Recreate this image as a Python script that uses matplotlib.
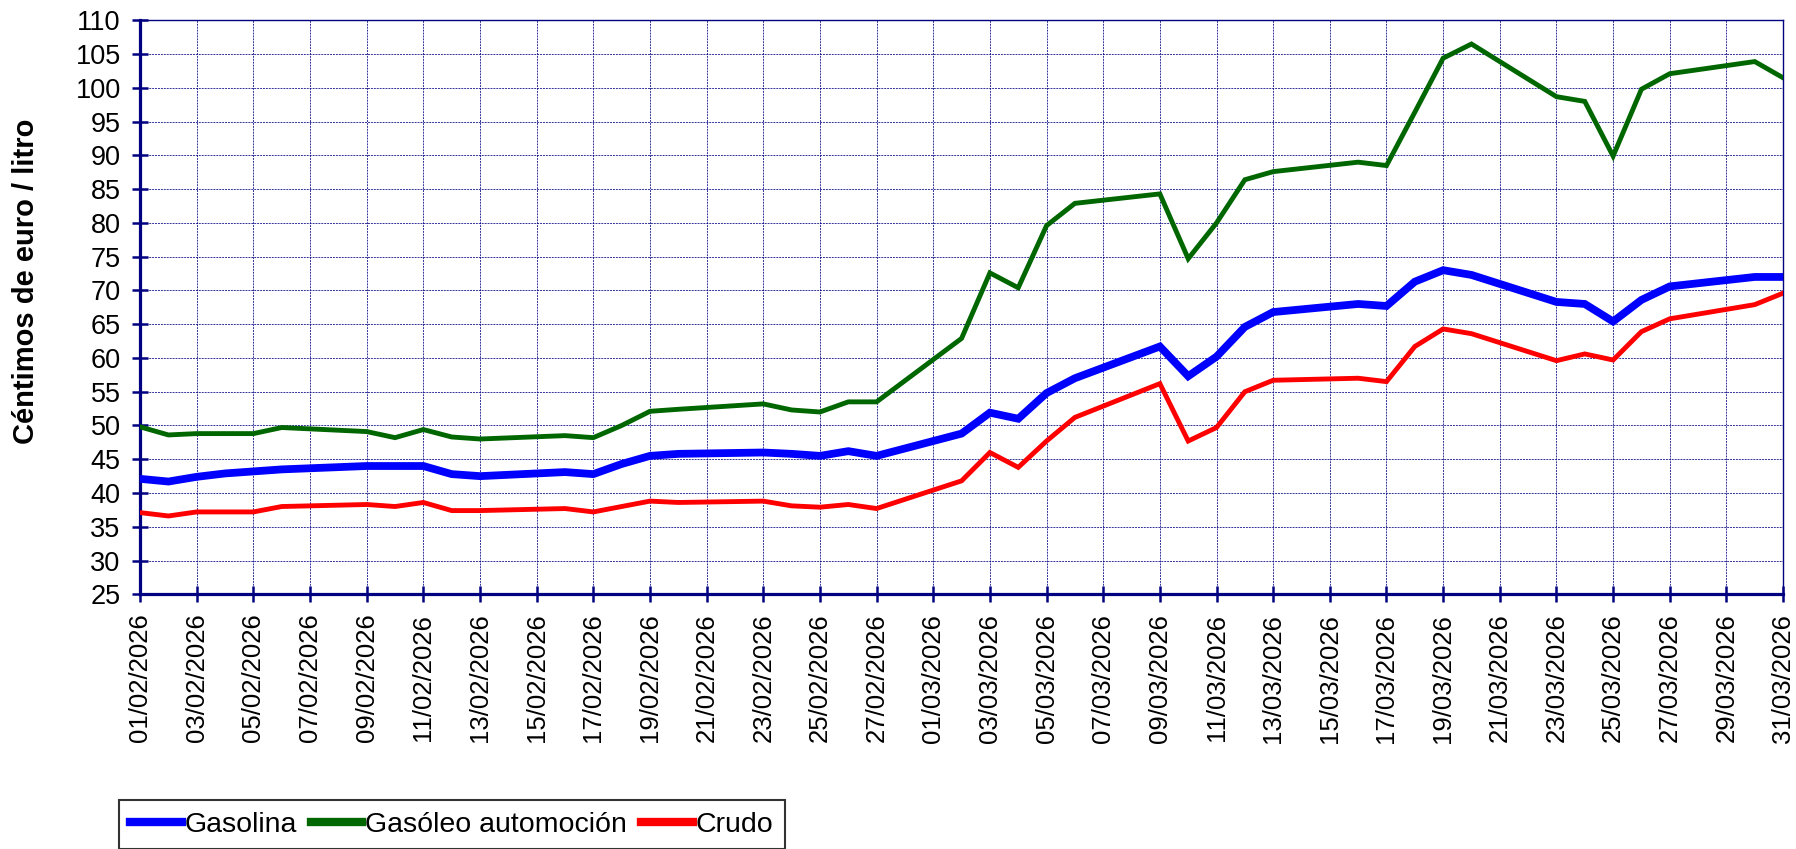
import matplotlib
matplotlib.use("Agg")
import matplotlib.pyplot as plt
import matplotlib.dates as mdates
import pandas as pd

plt.rcParams['font.family'] = ['Liberation Sans', 'DejaVu Sans']

dates = ["01/02/2026", "02/02/2026", "03/02/2026", "04/02/2026", "05/02/2026", "06/02/2026",
         "09/02/2026", "10/02/2026", "11/02/2026", "12/02/2026", "13/02/2026",
         "16/02/2026", "17/02/2026", "18/02/2026", "19/02/2026", "20/02/2026",
         "23/02/2026", "24/02/2026", "25/02/2026", "26/02/2026", "27/02/2026",
         "02/03/2026", "03/03/2026", "04/03/2026", "05/03/2026", "06/03/2026",
         "09/03/2026", "10/03/2026", "11/03/2026", "12/03/2026", "13/03/2026",
         "16/03/2026", "17/03/2026", "18/03/2026", "19/03/2026", "20/03/2026",
         "23/03/2026", "24/03/2026", "25/03/2026", "26/03/2026", "27/03/2026",
         "30/03/2026", "31/03/2026"]

gasolina = [42.1, 41.7, 42.4, 42.9, 43.2, 43.5, 44.0, 44.0, 44.0, 42.8, 42.5,
            43.1, 42.8, 44.3, 45.5, 45.8, 46.0, 45.8, 45.5, 46.2, 45.5,
            48.8, 51.9, 51.0, 54.8, 57.0, 61.7, 57.3, 60.2, 64.6, 66.8,
            68.0, 67.7, 71.3, 73.0, 72.3, 68.3, 68.0, 65.4, 68.6, 70.6,
            72.0, 72.0]

gasoleo = [49.8, 48.6, 48.8, 48.8, 48.8, 49.7, 49.1, 48.2, 49.4, 48.3, 48.0,
           48.5, 48.2, 50.0, 52.1, 52.4, 53.2, 52.3, 52.0, 53.5, 53.5,
           62.9, 72.6, 70.4, 79.6, 82.9, 84.3, 74.7, 80.0, 86.4, 87.6,
           89.0, 88.5, 96.4, 104.4, 106.5, 98.7, 98.0, 89.9, 99.8, 102.1,
           103.9, 101.5]

crudo = [37.1, 36.6, 37.2, 37.2, 37.2, 38.0, 38.3, 38.0, 38.6, 37.4, 37.4,
         37.7, 37.2, 38.0, 38.8, 38.6, 38.8, 38.1, 37.9, 38.3, 37.7,
         41.8, 46.0, 43.8, 47.7, 51.2, 56.2, 47.7, 49.7, 55.0, 56.7,
         57.0, 56.5, 61.7, 64.3, 63.6, 59.6, 60.6, 59.7, 63.9, 65.8,
         67.9, 69.6]

series_names = ["Gasolina", "Gasóleo automoción", "Crudo"]
y_label = "Céntimos de euro / litro"
x_start, x_end = "01/02/2026", "31/03/2026"

navy = "#000080"
x = pd.to_datetime(dates, format="%d/%m/%Y")

fig = plt.figure(figsize=(17.96, 8.49), dpi=100)
ax = fig.add_axes([0.078, 0.300, 0.9148, 0.676])

ax.plot(x, gasolina, color="#0000FF", lw=5.6, label=series_names[0], solid_joinstyle="miter", zorder=5)
ax.plot(x, gasoleo, color="#006600", lw=3.5, label=series_names[1], solid_joinstyle="miter", zorder=4)
ax.plot(x, crudo, color="#FF0000", lw=3.5, label=series_names[2], solid_joinstyle="miter", zorder=4)

ax.set_xlim(pd.to_datetime(x_start, format="%d/%m/%Y"), pd.to_datetime(x_end, format="%d/%m/%Y"))
ax.set_ylim(25, 110)
ax.set_yticks(range(25, 111, 5))
ax.xaxis.set_major_locator(mdates.DayLocator(bymonthday=range(1, 32, 2)))
ax.xaxis.set_major_formatter(mdates.DateFormatter("%d/%m/%Y"))

ax.grid(True, which="major", color=navy, linestyle=(0, (2, 1)), linewidth=0.7, alpha=0.8, zorder=0)
ax.set_axisbelow(True)

for side in ["left", "bottom"]:
    ax.spines[side].set_color(navy)
    ax.spines[side].set_linewidth(2.3)
for side in ["top", "right"]:
    ax.spines[side].set_color(navy)
    ax.spines[side].set_linewidth(1.0)

ax.tick_params(axis="y", direction="inout", length=12, width=1.8, color=navy,
               labelsize=19.5, pad=8)
ax.tick_params(axis="x", direction="inout", length=12, width=1.8, color=navy,
               labelsize=18.5, pad=8)
for lab in ax.get_xticklabels():
    lab.set_rotation(90)
    lab.set_ha("center")
    lab.set_va("top")

fig.text(26 / 1796, 1 - 281 / 849, y_label, rotation=90, ha="center", va="center",
         fontsize=21, fontweight="bold")

leg = fig.legend(loc="lower left", bbox_to_anchor=(119 / 1796, 0.0), ncol=3,
                 fontsize=20.5, frameon=True, fancybox=False, edgecolor="black",
                 handlelength=1.8, handletextpad=0.1, columnspacing=0.5,
                 borderpad=0.4, borderaxespad=0.0)
leg.get_frame().set_linewidth(1.5)
for h in leg.get_lines():
    h.set_linewidth(6)

fig.savefig("out.png", dpi=100)
